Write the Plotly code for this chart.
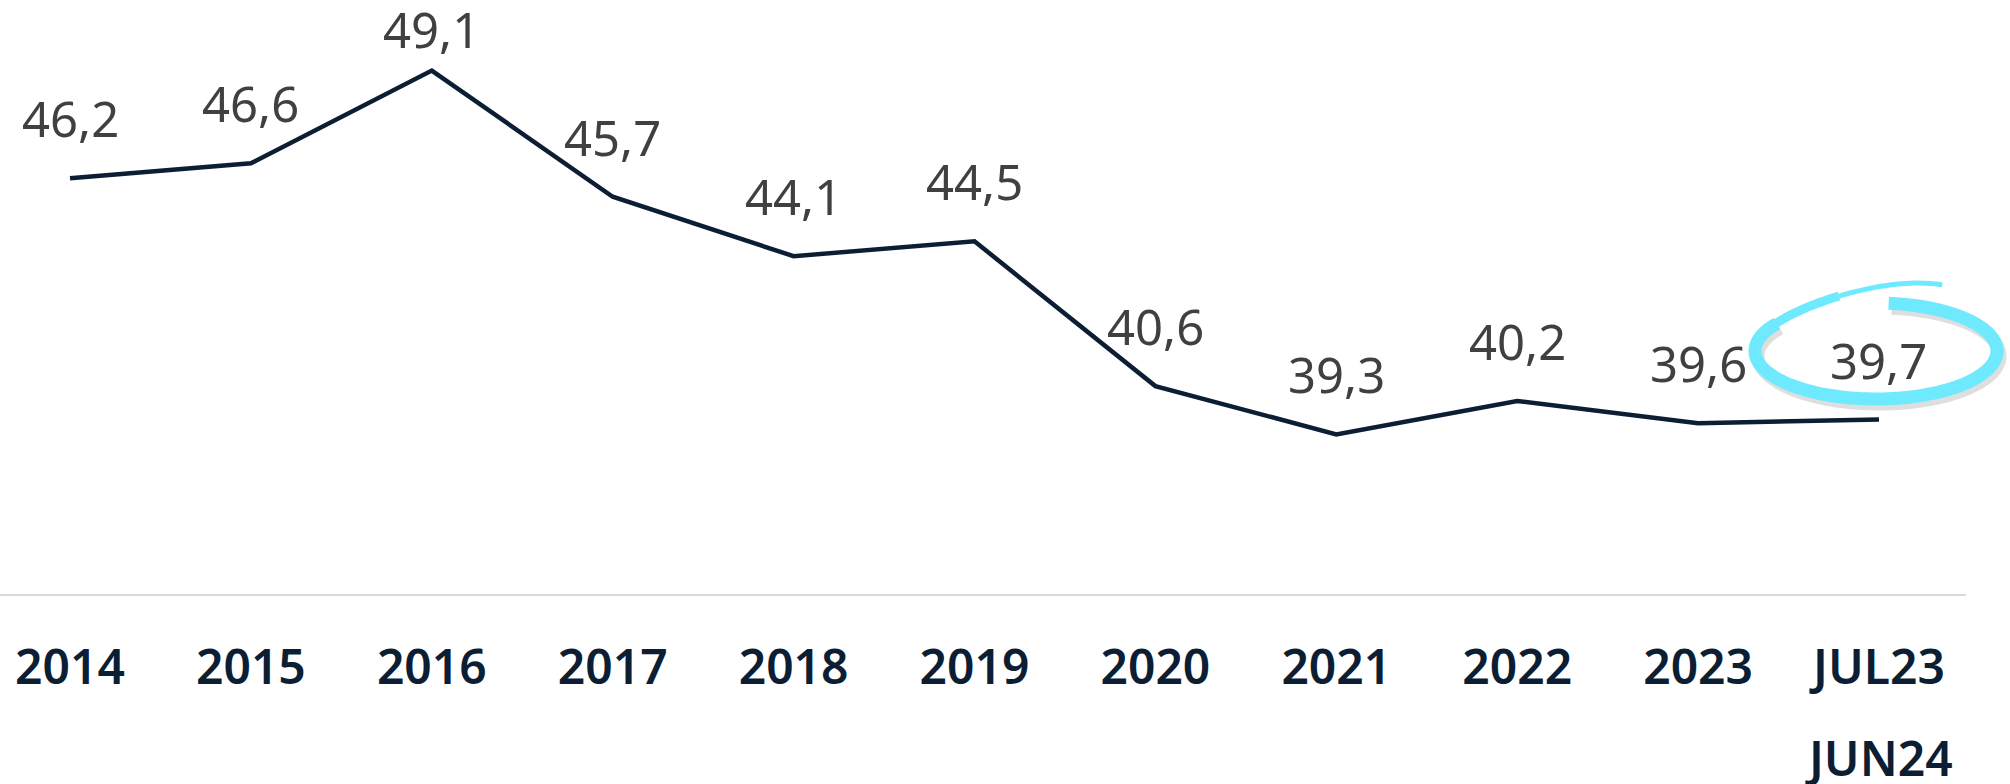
import numpy as np
import plotly.graph_objects as go

# periods on the x axis and the matching values
periods = ["2014", "2015", "2016", "2017", "2018", "2019",
           "2020", "2021", "2022", "2023", "JUL23"]
last_period_sub = "JUN24"
values = [46.2, 46.6, 49.1, 45.7, 44.1, 44.5, 40.6, 39.3, 40.2, 39.6, 39.7]

line_color = "#0b1e33"
label_color = "#404040"
highlight_color = "#6ee9fd"
font_family = "Noto Sans, Open Sans, sans-serif"

W, H = 2010, 784
plot_w, plot_h = 1966, 594

fig = go.Figure()
fig.add_trace(
    go.Scatter(
        x=list(range(len(periods))),
        y=values,
        mode="lines",
        line=dict(color=line_color, width=4.5),
        hoverinfo="skip",
        showlegend=False,
    )
)

# value labels above each point (comma decimals)
top_val = max(values)
for i, v in enumerate(values):
    fig.add_annotation(
        x=i, y=v, xref="x", yref="y",
        text=f"{v:.1f}".replace(".", ","),
        showarrow=False,
        yanchor="middle",
        yshift=42 if v == top_val else 60,
        font=dict(family=font_family, size=49, color=label_color),
    )

# second line of the last category label
fig.add_annotation(
    x=len(periods) - 1, y=-0.276, xref="x", yref="paper",
    text=last_period_sub, showarrow=False, yanchor="middle",
    font=dict(family=font_family, size=48, color=line_color, weight=600),
)


# hand drawn highlight round the last value, built in pixels then to paper
def px_path(t_deg, cx, cy, rx, ry):
    t = np.radians(t_deg)
    xs = (cx + rx * np.cos(t)) / plot_w
    ys = (plot_h - (cy + ry * np.sin(t))) / plot_h
    pts = [f"{x:.5f},{y:.5f}" for x, y in zip(xs, ys)]
    return "M " + " L ".join(pts)


cx, cy = 1876, 351
t_main = np.linspace(-84, 215, 120)
t_tail = np.linspace(205, 302, 50)
ry_tail = 48 + np.clip((t_tail - 205) / 97, 0, 1) ** 1.6 * 30
rx_tail = 121 + np.clip((t_tail - 205) / 97, 0, 1) * 4

for dx, dy, col, wd in [(3, 5, "rgba(90,90,90,0.2)", 13),
                        (0, 0, highlight_color, 13)]:
    fig.add_shape(type="path", xref="paper", yref="paper",
                  path=px_path(t_main, cx + dx, cy + dy, 121, 48),
                  line=dict(color=col, width=wd), layer="above")
for seg, wd in [(slice(0, 25), 9), (slice(24, 50), 5)]:
    fig.add_shape(type="path", xref="paper", yref="paper",
                  path=px_path(t_tail[seg], cx, cy, rx_tail[seg], ry_tail[seg]),
                  line=dict(color=highlight_color, width=wd), layer="above")

fig.update_xaxes(
    range=[-0.387, 10.481],
    tickmode="array",
    tickvals=list(range(len(periods))),
    ticktext=periods,
    showgrid=False,
    zeroline=False,
    showline=True,
    linecolor="#d9d9d9",
    linewidth=2,
    ticks="",
    ticklabelstandoff=30,
    tickfont=dict(family=font_family, size=48, color=line_color, weight=600),
)
fig.update_yaxes(range=[35, 51], visible=False, showgrid=False, zeroline=False)

fig.update_layout(
    width=W, height=H,
    margin=dict(l=0, r=W - plot_w, t=0, b=H - plot_h),
    plot_bgcolor="white",
    paper_bgcolor="white",
    showlegend=False,
)

# drop the browser's default body margin so the figure sits at the corner
fig.write_html(
    "out.html",
    config={"displayModeBar": False},
    post_script="document.body.style.margin='0';",
)
